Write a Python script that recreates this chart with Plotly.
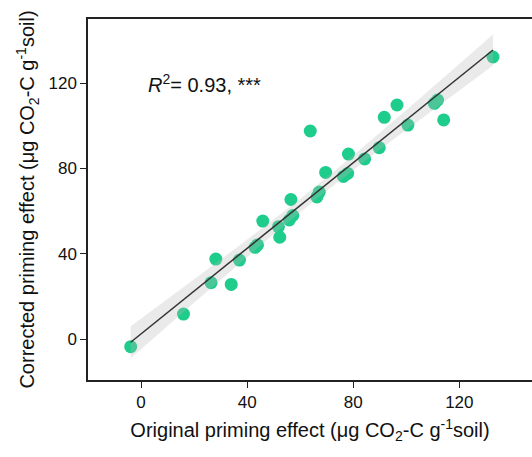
import numpy as np
import plotly.graph_objects as go

# Original vs corrected priming effect (µg CO2-C g-1 soil)
original = [-3.9, 16.0, 26.4, 28.2, 34.0, 37.1, 43.0, 43.9, 45.9, 51.8,
            52.3, 55.9, 57.2, 56.5, 63.8, 66.3, 67.2, 69.6, 76.3, 77.9,
            78.2, 84.3, 89.8, 91.7, 96.5, 100.6, 110.6, 111.8, 114.1, 132.7]
corrected = [-3.6, 11.7, 26.4, 37.5, 25.6, 37.0, 43.0, 44.1, 55.3, 52.6,
             47.7, 55.8, 57.9, 65.4, 97.5, 66.6, 68.9, 78.1, 76.2, 77.6,
             86.7, 84.4, 89.7, 103.9, 109.7, 100.3, 110.5, 112.0, 102.7, 132.2]
tick_vals = [0, 40, 80, 120]

x = np.array(original)
y = np.array(corrected)
n = len(x)

# Least-squares fit with a 95 % confidence band for the mean
slope, intercept = np.polyfit(x, y, 1)
resid = y - (slope * x + intercept)
s = np.sqrt(np.sum(resid ** 2) / (n - 2))
xs = np.linspace(x.min(), x.max(), 100)
ys = slope * xs + intercept
t_crit = 2.048  # t(0.975, df=28)
se = s * np.sqrt(1 / n + (xs - x.mean()) ** 2 / np.sum((x - x.mean()) ** 2))
upper = ys + t_crit * se
lower = ys - t_crit * se

green = "#1ECC8C"
font = "Liberation Sans, Arial, sans-serif"
ink = "#111111"

fig = go.Figure()
fig.add_trace(go.Scatter(
    x=original, y=corrected, mode="markers",
    marker=dict(size=13, color=green, line=dict(width=0)),
    showlegend=False, hoverinfo="x+y"))
fig.add_trace(go.Scatter(
    x=np.concatenate([xs, xs[::-1]]), y=np.concatenate([upper, lower[::-1]]),
    fill="toself", fillcolor="rgba(185,185,185,0.3)", line=dict(width=0),
    mode="lines", showlegend=False, hoverinfo="skip"))
fig.add_trace(go.Scatter(
    x=xs, y=ys, mode="lines", line=dict(color="#333333", width=1.5),
    showlegend=False, hoverinfo="skip"))

fig.add_annotation(
    x=2.0, y=120, xref="x", yref="y", xanchor="left", yanchor="middle",
    text="<i>R</i><sup>2</sup>= 0.93, ***", showarrow=False,
    font=dict(family=font, size=20, color=ink))

axis_common = dict(
    showgrid=False, zeroline=False, showline=True, linecolor="#222222",
    linewidth=1.5, ticks="outside", ticklen=6, tickwidth=1.2,
    tickcolor="#222222", tickvals=tick_vals,
    tickfont=dict(family=font, size=17, color=ink),
)

fig.update_layout(
    width=532, height=457,
    margin=dict(l=88, r=0, t=19, b=77),
    paper_bgcolor="white", plot_bgcolor="white",
    xaxis=dict(
        range=[-20, 147.4], mirror=True,
        title=dict(text="Original priming effect (μg CO<sub>2</sub>-C g<sup>-1</sup>soil)",
                   font=dict(family=font, size=20, color=ink), standoff=12),
        **axis_common),
    yaxis=dict(
        range=[-19.2, 150], mirror=False,
        title=dict(text="Corrected priming effect (μg CO<sub>2</sub>-C g<sup>-1</sup>soil)",
                   font=dict(family=font, size=20, color=ink), standoff=8),
        **axis_common),
)

fig.write_html("out.html")
